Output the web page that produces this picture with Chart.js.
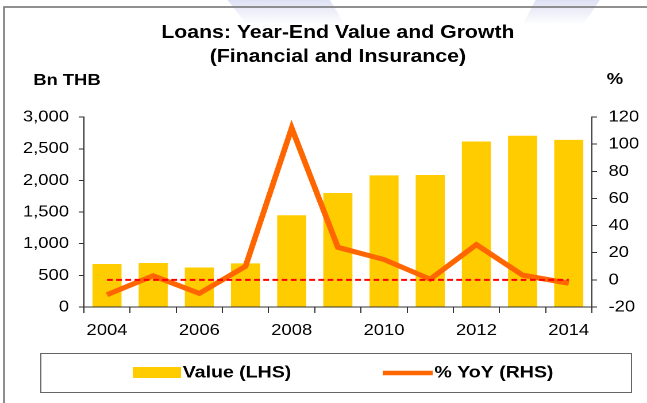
<!DOCTYPE html>
<html>
<head>
<meta charset="utf-8">
<script src="https://cdn.jsdelivr.net/npm/chart.js@4.4.0/dist/chart.umd.min.js"></script>
<style>
  html, body { margin: 0; padding: 0; background: #fff; overflow: hidden; }
  /* the chart is laid out narrow and stretched sideways to the page width */
  #chartBox { position: relative; width: 563px; height: 403px; transform: scaleX(1.1492); transform-origin: 0 0; }
</style>
</head>
<body>
<div id="chartBox"><canvas id="loansChart"></canvas></div>
<script>
const years = ['2004', '2005', '2006', '2007', '2008', '2009', '2010', '2011', '2012', '2013', '2014'];
// year-end loans, Bn THB (left axis)
const loanValues = [680, 695, 625, 690, 1450, 1800, 2080, 2085, 2615, 2705, 2640];
// growth on previous year, % (right axis)
const yoyGrowth = [-11, 3, -10, 10, 112, 24, 15, 0.5, 26, 3.5, -2.5];
// zero reference for the growth axis
const zeroLine = [0, 0, 0, 0, 0, 0, 0, 0, 0, 0, 0];

const leftTicks = { min: 0, max: 3000, step: 500 };
const rightTicks = { min: -20, max: 120, step: 20 };

const FONT = "'Liberation Sans', Arial, Helvetica, sans-serif";
const AXIS_COLOR = '#333333';

Chart.defaults.font.family = FONT;
Chart.defaults.color = '#000';

// frame, unit captions and the boxed legend under the axis
const chartDecor = {
  id: 'chartDecor',
  beforeDraw(chart) {
    // faint page watermark peeking in at the top edge
    const ctx = chart.ctx;
    ctx.save();
    const fade = ctx.createLinearGradient(0, 0, 0, 24);
    fade.addColorStop(0, 'rgba(214, 218, 240, 0.8)');
    fade.addColorStop(1, 'rgba(214, 218, 240, 0)');
    ctx.fillStyle = fade;
    ctx.beginPath();
    ctx.moveTo(198, 0); ctx.lineTo(287, 0); ctx.lineTo(300, 24); ctx.lineTo(214, 24);
    ctx.closePath();
    ctx.moveTo(466, 0); ctx.lineTo(522, 0); ctx.lineTo(508, 24); ctx.lineTo(455, 24);
    ctx.closePath();
    ctx.fill();
    ctx.restore();
  },
  afterDraw(chart) {
    const ctx = chart.ctx;
    const bars = chart.data.datasets[0];
    const growth = chart.data.datasets[1];
    ctx.save();

    // outer frame (left and top edges)
    ctx.strokeStyle = '#808080';
    ctx.lineWidth = 1.7;
    ctx.beginPath();
    ctx.moveTo(3.5, 403);
    ctx.lineTo(3.5, 7);
    ctx.lineTo(563, 7);
    ctx.stroke();

    // unit captions
    ctx.fillStyle = '#000';
    ctx.font = 'bold 16px ' + FONT;
    ctx.textBaseline = 'alphabetic';
    ctx.textAlign = 'left';
    ctx.fillText('Bn THB', 29, 85);
    ctx.fillText('%', 528, 84);

    // legend box
    ctx.strokeStyle = '#666666';
    ctx.lineWidth = 1;
    ctx.strokeRect(35.5, 353.5, 514, 39);

    ctx.fillStyle = bars.backgroundColor;
    ctx.fillRect(115.5, 367, 42, 11);

    ctx.strokeStyle = growth.borderColor;
    ctx.lineWidth = 4.5;
    ctx.beginPath();
    ctx.moveTo(333, 373);
    ctx.lineTo(376.5, 373);
    ctx.stroke();

    ctx.fillStyle = '#000';
    ctx.font = 'bold 17px ' + FONT;
    ctx.textBaseline = 'middle';
    ctx.fillText(bars.label, 159, 373);
    ctx.fillText(growth.label, 378, 373);

    ctx.restore();
  }
};

const ctx = document.getElementById('loansChart').getContext('2d');

new Chart(ctx, {
  type: 'bar',
  data: {
    labels: years,
    datasets: [
      {
        type: 'bar',
        label: 'Value (LHS)',
        data: loanValues,
        backgroundColor: '#ffcc00',
        borderWidth: 0,
        barPercentage: 0.63,
        categoryPercentage: 1,
        yAxisID: 'y',
        order: 2
      },
      {
        type: 'line',
        label: '% YoY (RHS)',
        data: yoyGrowth,
        borderColor: '#ff6600',
        borderWidth: 5,
        pointRadius: 0,
        tension: 0,
        yAxisID: 'y1',
        order: 1
      },
      {
        type: 'line',
        label: 'zero',
        data: zeroLine,
        borderColor: '#ff0000',
        borderWidth: 2,
        borderDash: [5, 3],
        pointRadius: 0,
        yAxisID: 'y1',
        order: 0
      }
    ]
  },
  options: {
    responsive: true,
    maintainAspectRatio: false,
    devicePixelRatio: 2,
    animation: false,
    events: [],
    layout: { padding: 0 },
    scales: {
      x: {
        offset: true,
        grid: { offset: true, drawOnChartArea: false, color: AXIS_COLOR, tickLength: 6 },
        border: { color: AXIS_COLOR, width: 1 },
        ticks: {
          autoSkip: false,
          maxRotation: 0,
          padding: 8,
          font: { size: 16 },
          color: '#000',
          callback: function(value, index) {
            return index % 2 === 0 ? this.getLabelForValue(value) : '';
          }
        },
        afterFit: function(scale) { scale.height = 96; }
      },
      y: {
        position: 'left',
        min: leftTicks.min,
        max: leftTicks.max,
        grid: { drawOnChartArea: false, color: AXIS_COLOR, tickLength: 4.5 },
        border: { color: AXIS_COLOR, width: 1 },
        ticks: { stepSize: leftTicks.step, padding: 8.5, font: { size: 16 }, color: '#000' },
        afterFit: function(scale) { scale.width = 73; }
      },
      y1: {
        position: 'right',
        min: rightTicks.min,
        max: rightTicks.max,
        grid: { drawOnChartArea: false, color: AXIS_COLOR, tickLength: 4.5 },
        border: { color: AXIS_COLOR, width: 1 },
        ticks: { stepSize: rightTicks.step, padding: 10, font: { size: 16 }, color: '#000' },
        afterFit: function(scale) { scale.width = 48; }
      }
    },
    plugins: {
      legend: { display: false },
      tooltip: { enabled: false },
      title: {
        display: true,
        fullSize: false,
        text: ['Loans: Year-End Value and Growth', '(Financial and Insurance)'],
        color: '#000',
        font: { size: 18.5, weight: 'bold', lineHeight: 1.3 },
        padding: { top: 21, bottom: 48 }
      }
    }
  },
  plugins: [chartDecor]
});
</script>
</body>
</html>
